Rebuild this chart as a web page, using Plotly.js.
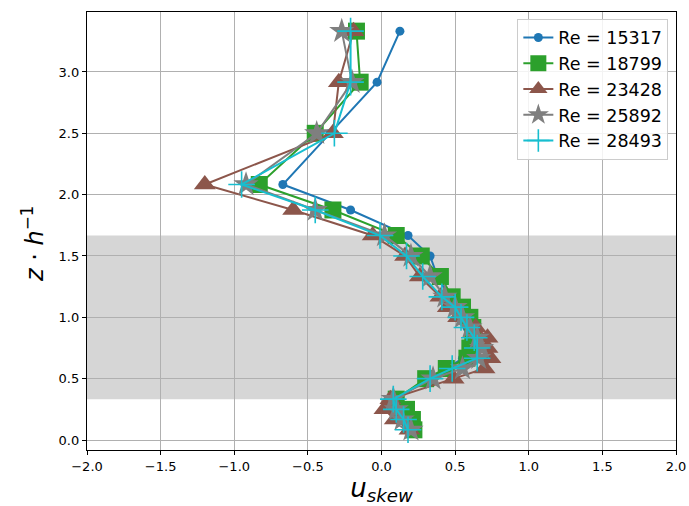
<!DOCTYPE html>
<html>
<head>
<meta charset="utf-8">
<script src="https://cdn.plot.ly/plotly-3.0.1.min.js"></script>
<style>html,body{margin:0;padding:0;background:#fff;}#chart{width:689px;height:506px;}</style>
</head>
<body>
<div id="chart"></div>
<script>
// heights z/h (shared measurement levels)
const zLevels = [3.333, 2.917, 2.5, 2.083, 1.875, 1.667, 1.5, 1.333, 1.167, 1.083, 1.0, 0.917, 0.833, 0.75, 0.667, 0.583, 0.5, 0.333, 0.25, 0.167, 0.083];

const seriesNames = ["Re = 15317", "Re = 18799", "Re = 23428", "Re = 25892", "Re = 28493"];

const skew15317 = [0.125, -0.03, -0.35, -0.67, -0.21, 0.18, 0.33, 0.38, 0.46, 0.50, 0.54, 0.58, 0.60, 0.60, 0.55, 0.45, 0.32, 0.10, 0.08, 0.14, 0.20];
const skew18799 = [-0.17, -0.145, -0.45, -0.83, -0.33, 0.10, 0.27, 0.40, 0.48, 0.55, 0.60, 0.62, 0.62, 0.60, 0.58, 0.44, 0.30, 0.10, 0.17, 0.21, 0.22];
const skew23428 = [-0.19, -0.29, -0.33, -1.20, -0.60, -0.06, 0.16, 0.26, 0.40, 0.45, 0.52, 0.64, 0.72, 0.72, 0.74, 0.70, 0.49, 0.06, 0.02, 0.09, 0.19];
const skew25892 = [-0.27, -0.20, -0.44, -0.92, -0.45, 0.02, 0.20, 0.33, 0.43, 0.50, 0.55, 0.60, 0.65, 0.68, 0.66, 0.55, 0.35, 0.08, 0.10, 0.14, 0.20];
const skew28493 = [-0.21, -0.21, -0.32, -0.95, -0.45, -0.01, 0.17, 0.28, 0.41, 0.50, 0.54, 0.58, 0.63, 0.65, 0.65, 0.48, 0.33, 0.08, 0.10, 0.15, 0.18];

const canopyBand = [0.333, 1.667];
const xTicks = [-2.0, -1.5, -1.0, -0.5, 0.0, 0.5, 1.0, 1.5, 2.0];
const yTicks = [0.0, 0.5, 1.0, 1.5, 2.0, 2.5, 3.0];

const colors = ["#1f77b4", "#2ca02c", "#8c564b", "#7f7f7f", "#17becf"];
const symbols = ["circle", "square", "triangle-up", "star", "cross-thin-open"];
const sizes = [9, 17, 19, 19, 19];
const allX = [skew15317, skew18799, skew23428, skew25892, skew28493];

const traces = allX.map((xs, i) => ({
  type: "scatter",
  mode: "lines+markers",
  name: seriesNames[i],
  x: xs,
  y: zLevels,
  line: {color: colors[i], width: 2},
  marker: {
    symbol: symbols[i],
    size: sizes[i],
    color: colors[i],
    line: i === 4 ? {color: colors[i], width: 1.6} : {width: 0}
  }
}));

const axisCommon = {
  showline: true, mirror: true, linecolor: "#000", linewidth: 1.2,
  ticks: "outside", ticklen: 4, tickwidth: 1, tickcolor: "#000",
  showgrid: true, gridcolor: "#b0b0b0", gridwidth: 1,
  zeroline: false,
  tickfont: {family: "DejaVu Sans", size: 13, color: "#000"},
  tickformat: ".1f"
};

const layout = {
  width: 689, height: 506,
  margin: {l: 87, r: 13, t: 12, b: 56},
  paper_bgcolor: "#fff", plot_bgcolor: "#fff",
  showlegend: true,
  xaxis: Object.assign({}, axisCommon, {
    range: [-2, 2], tickvals: xTicks,
    title: {text: "<i>u</i><sub><i>skew</i></sub>", font: {family: "DejaVu Sans", size: 26, color: "#000"}, standoff: 4}
  }),
  yaxis: Object.assign({}, axisCommon, {
    range: [-0.0815, 3.489], tickvals: yTicks
  }),
  annotations: [{
    text: "<i>z</i> · <i>h</i><sup>−1</sup>",
    xref: "paper", yref: "paper", x: -0.092, y: 0.47,
    xanchor: "center", yanchor: "middle", textangle: -90, showarrow: false,
    font: {family: "DejaVu Sans", size: 24, color: "#000"}
  }],
  shapes: [{
    type: "rect", xref: "paper", yref: "y", x0: 0, x1: 1,
    y0: canopyBand[0], y1: canopyBand[1],
    fillcolor: "#d6d6d6", line: {width: 0}, layer: "below"
  }],
  legend: {
    x: 0.987, y: 0.985, xanchor: "right", yanchor: "top",
    bgcolor: "rgba(255,255,255,0.85)", bordercolor: "#cccccc", borderwidth: 1,
    font: {family: "DejaVu Sans", size: 17.5, color: "#000"},
    tracegroupgap: 0, itemwidth: 30
  }
};

Plotly.newPlot("chart", traces, layout, {staticPlot: true, displayModeBar: false});
</script>
</body>
</html>
